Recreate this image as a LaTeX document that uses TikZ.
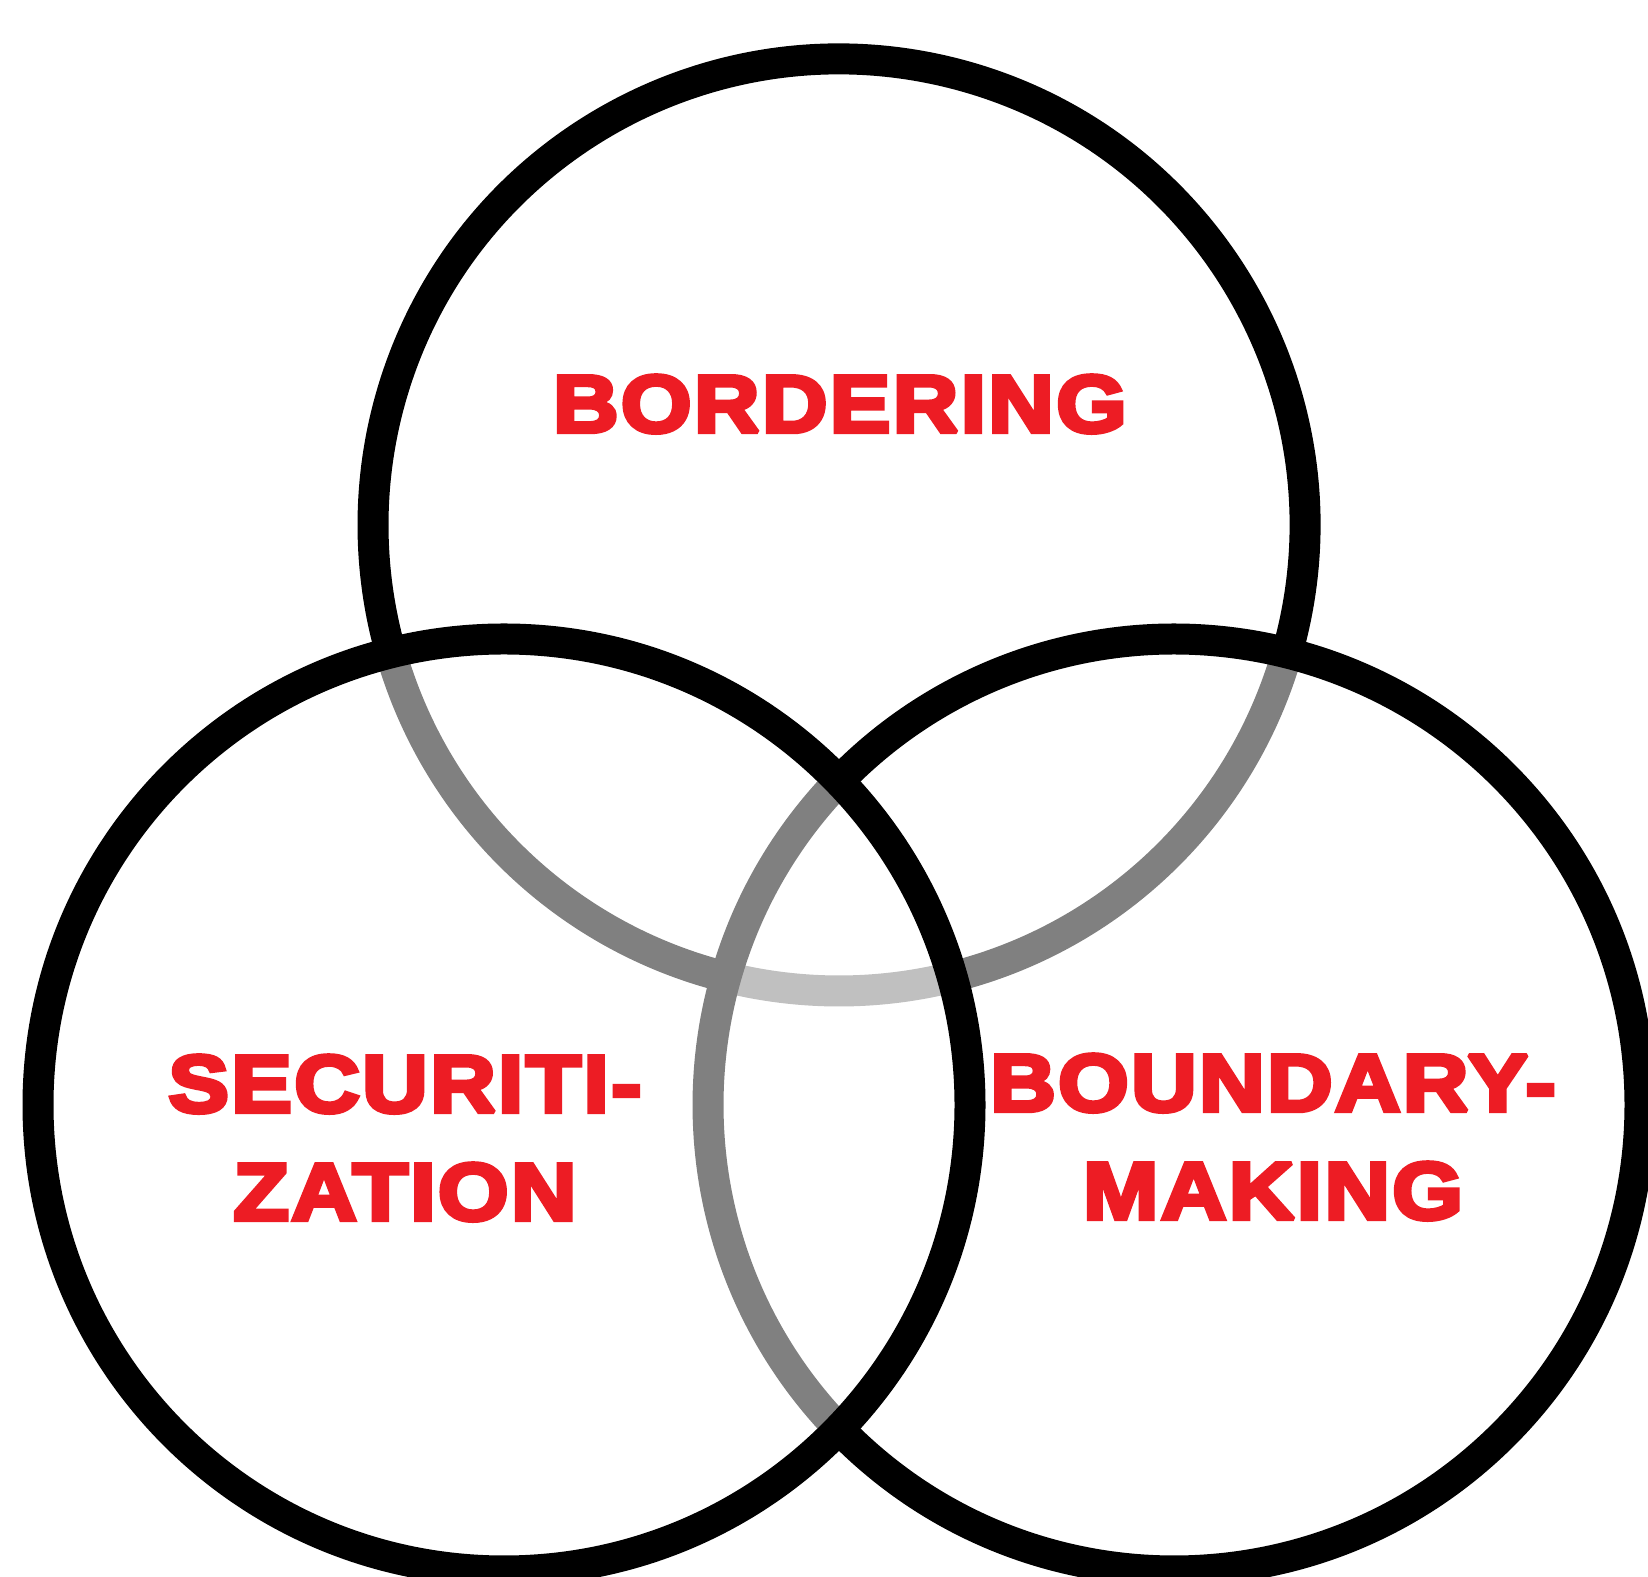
\documentclass[tikz,border=0pt]{standalone}
\usepackage{fontspec}
\newfontfamily\heavyfont[FakeBold=5.5,FakeStretch=1.12,LetterSpace=3]{Liberation Sans Bold}
\definecolor{vred}{HTML}{ED1C24}
\definecolor{midgray}{HTML}{808080}
\definecolor{palegray}{HTML}{C0C0C0}
\newcommand{\sharpjoin}{\pgfsetmiterjoin\pgfsetmiterlimit{2}}
\begin{document}
\begin{tikzpicture}[x=1pt,y=1pt,
  ring/.style={line width=31pt},
  lbl/.style={text=vred, font=\heavyfont\fontsize{81}{96}\selectfont, inner sep=0pt, anchor=base}]
\useasboundingbox (0,0) rectangle (1648,1576);
\clip (0,0) rectangle (1648,1576);
\fill[white] (0,0) rectangle (1648,1576);
\coordinate (T) at (839,1051);
\coordinate (L) at (504,471);
\coordinate (R) at (1174,471);
% top circle
\draw[ring,black] (T) ++(-15.96:466) arc[start angle=-15.96,end angle=195.96,radius=466];
\draw[ring,midgray] (T) ++(195.96:466) arc[start angle=195.96,end angle=255.96,radius=466];
\draw[ring,palegray] (T) ++(255.96:466) arc[start angle=255.96,end angle=284.04,radius=466];
\draw[ring,midgray] (T) ++(284.04:466) arc[start angle=284.04,end angle=344.04,radius=466];
% right circle
\draw[ring,black] (R) ++(224.04:466) arc[start angle=224.04,end angle=495.96,radius=466];
\draw[ring,midgray] (R) ++(135.96:466) arc[start angle=135.96,end angle=224.04,radius=466];
% left circle
\draw[ring,black] (L) circle[radius=466];
% labels
\node[lbl] (bord) at (840,1144) {\sharpjoin BORDERING};
\node[lbl] (sec1) at (405,464) {\sharpjoin SECURITI-};
\node[lbl] (sec2) at (405,356) {\sharpjoin ZATION};
\node[lbl] (bnd1) at (1273,465) {\sharpjoin BOUNDARY-};
\node[lbl] (bnd2) at (1273,357) {\sharpjoin MAKING};
\end{tikzpicture}
\end{document}
